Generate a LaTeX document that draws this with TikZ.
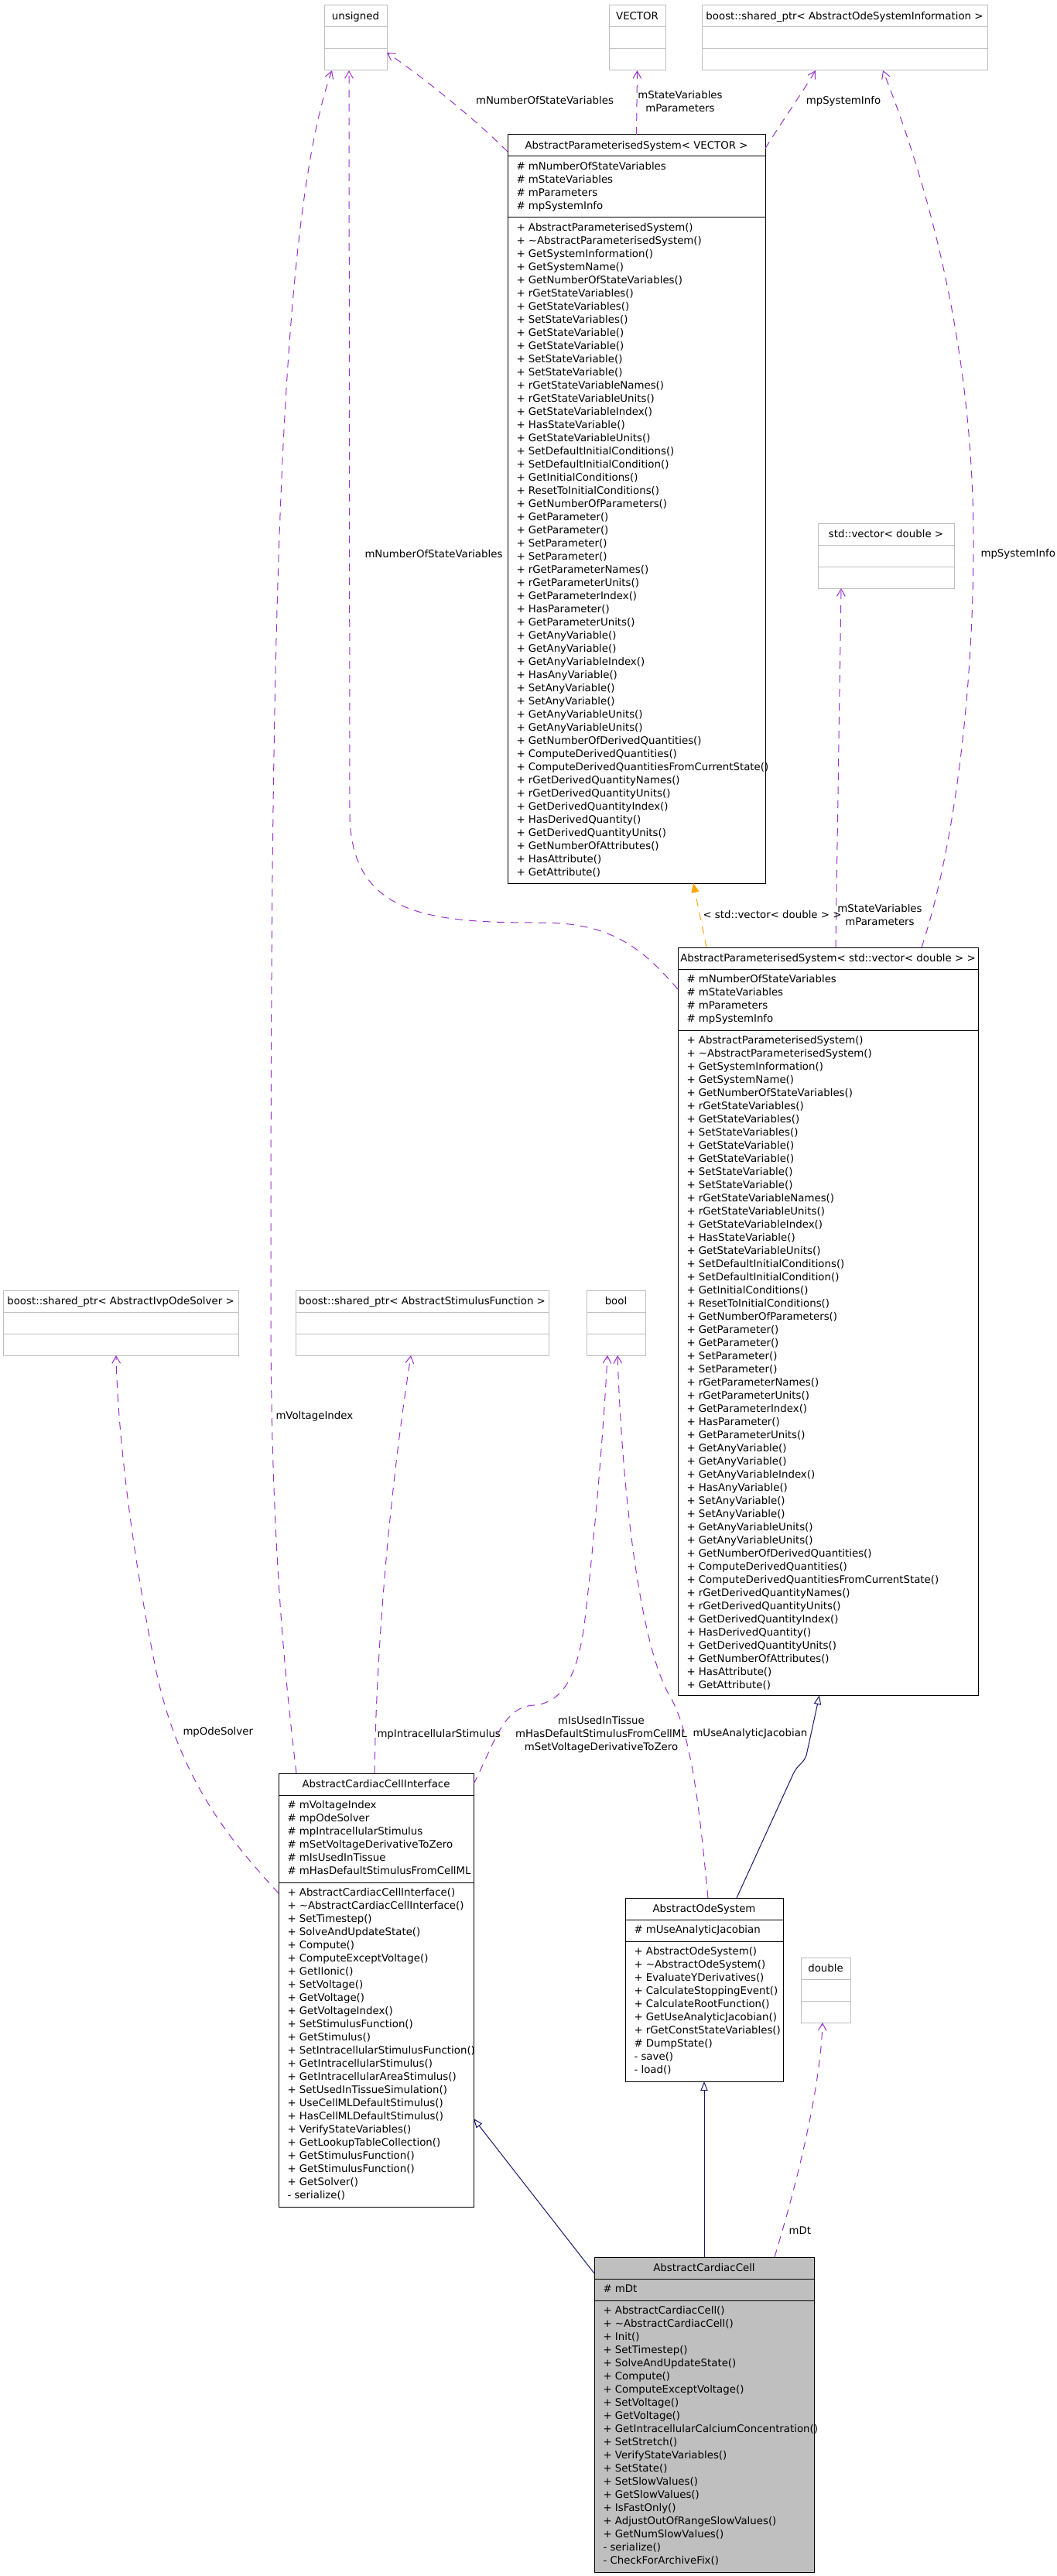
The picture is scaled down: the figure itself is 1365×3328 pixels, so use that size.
\documentclass[tikz,border=0pt]{standalone}
\usepackage{fontspec}
\setmainfont{DejaVu Sans}
\usetikzlibrary{arrows.meta,positioning,calc}
\newlength\px
\setlength\px{0.75pt}
\definecolor{usecol}{HTML}{9A32CD}
\definecolor{inhcol}{HTML}{191970}
\definecolor{tplcol}{HTML}{FFA500}
\definecolor{boxgray}{HTML}{BFBFBF}
\newcommand\apsmethods{+ AbstractParameterisedSystem(),+ \textasciitilde AbstractParameterisedSystem(),
  + GetSystemInformation(),+ GetSystemName(),+ GetNumberOfStateVariables(),+ rGetStateVariables(),
  + GetStateVariables(),+ SetStateVariables(),+ GetStateVariable(),+ GetStateVariable(),
  + SetStateVariable(),+ SetStateVariable(),+ rGetStateVariableNames(),+ rGetStateVariableUnits(),
  + GetStateVariableIndex(),+ HasStateVariable(),+ GetStateVariableUnits(),
  + SetDefaultInitialConditions(),+ SetDefaultInitialCondition(),+ GetInitialConditions(),
  + ResetToInitialConditions(),+ GetNumberOfParameters(),+ GetParameter(),+ GetParameter(),
  + SetParameter(),+ SetParameter(),+ rGetParameterNames(),+ rGetParameterUnits(),
  + GetParameterIndex(),+ HasParameter(),+ GetParameterUnits(),+ GetAnyVariable(),
  + GetAnyVariable(),+ GetAnyVariableIndex(),+ HasAnyVariable(),+ SetAnyVariable(),
  + SetAnyVariable(),+ GetAnyVariableUnits(),+ GetAnyVariableUnits(),
  + GetNumberOfDerivedQuantities(),+ ComputeDerivedQuantities(),
  + ComputeDerivedQuantitiesFromCurrentState(),+ rGetDerivedQuantityNames(),
  + rGetDerivedQuantityUnits(),+ GetDerivedQuantityIndex(),+ HasDerivedQuantity(),
  + GetDerivedQuantityUnits(),+ GetNumberOfAttributes(),+ HasAttribute(),+ GetAttribute()}
\newcommand\apsattrs{\# mNumberOfStateVariables,\# mStateVariables,\# mParameters,\# mpSystemInfo}

\begin{document}
\begin{tikzpicture}[x=1\px, y=-1\px, line width=0.75pt,
  font=\fontsize{10pt}{12.75pt}\selectfont,
  head/.style={draw, inner sep=0pt, outer sep=0pt, minimum height=28\px,
    text height=7.3pt, text depth=0pt, anchor=north west},
  crow/.style={draw, inner sep=0pt, outer sep=0pt},
  graybox/.style={draw=boxgray},
  cellfill/.style={fill=boxgray},
  member/.style={anchor=base west, inner sep=0pt},
  lbl/.style={inner sep=0pt, align=center},
  usage/.style={usecol, dash pattern=on 7.5pt off 6pt,
    -{Straight Barb[length=7pt, width=8pt]}},
  inherit/.style={inhcol, -{Triangle[open, length=9pt, width=7pt]}},
  tmpl/.style={tplcol, dash pattern=on 7.5pt off 6pt,
    -{Triangle[length=9pt, width=7.5pt]}},
]
  \useasboundingbox[fill=white] (0,0) rectangle (1365,3328);

  % Plain member types
  \node[head, graybox, minimum width=81\px] (uns) at (419,7) {unsigned};
  \node[crow, graybox, minimum width=81\px, minimum height=28\px, below=0pt of uns] (uns-a) {};
  \node[crow, graybox, minimum width=81\px, minimum height=28\px, below=0pt of uns-a] (uns-m) {};
  \node[head, graybox, minimum width=73\px] (vec) at (787,7) {VECTOR};
  \node[crow, graybox, minimum width=73\px, minimum height=28\px, below=0pt of vec] (vec-a) {};
  \node[crow, graybox, minimum width=73\px, minimum height=28\px, below=0pt of vec-a] (vec-m) {};
  \node[head, graybox, minimum width=369\px] (osi) at (907,7) {boost::shared\_ptr< AbstractOdeSystemInformation >};
  \node[crow, graybox, minimum width=369\px, minimum height=28\px, below=0pt of osi] (osi-a) {};
  \node[crow, graybox, minimum width=369\px, minimum height=28\px, below=0pt of osi-a] (osi-m) {};
  \node[head, graybox, minimum width=176\px] (stdv) at (1057,676) {std::vector< double >};
  \node[crow, graybox, minimum width=176\px, minimum height=28\px, below=0pt of stdv] (stdv-a) {};
  \node[crow, graybox, minimum width=176\px, minimum height=28\px, below=0pt of stdv-a] (stdv-m) {};
  \node[head, graybox, minimum width=304\px] (ivp) at (4,1667) {boost::shared\_ptr< AbstractIvpOdeSolver >};
  \node[crow, graybox, minimum width=304\px, minimum height=28\px, below=0pt of ivp] (ivp-a) {};
  \node[crow, graybox, minimum width=304\px, minimum height=28\px, below=0pt of ivp-a] (ivp-m) {};
  \node[head, graybox, minimum width=327\px] (stim) at (382,1667) {boost::shared\_ptr< AbstractStimulusFunction >};
  \node[crow, graybox, minimum width=327\px, minimum height=28\px, below=0pt of stim] (stim-a) {};
  \node[crow, graybox, minimum width=327\px, minimum height=28\px, below=0pt of stim-a] (stim-m) {};
  \node[head, graybox, minimum width=76\px] (boolt) at (758,1667) {bool};
  \node[crow, graybox, minimum width=76\px, minimum height=28\px, below=0pt of boolt] (boolt-a) {};
  \node[crow, graybox, minimum width=76\px, minimum height=28\px, below=0pt of boolt-a] (boolt-m) {};
  \node[head, graybox, minimum width=64\px] (dbl) at (1035,2529) {double};
  \node[crow, graybox, minimum width=64\px, minimum height=28\px, below=0pt of dbl] (dbl-a) {};
  \node[crow, graybox, minimum width=64\px, minimum height=28\px, below=0pt of dbl-a] (dbl-m) {};

  % AbstractParameterisedSystem< VECTOR >
  \node[head, minimum width=333\px] (apsv) at (656,174) {AbstractParameterisedSystem< VECTOR >};
  \node[crow, minimum width=333\px, minimum height=79\px, below=0pt of apsv] (apsv-a) {};
  \node[crow, minimum width=333\px, minimum height=860\px, below=0pt of apsv-a] (apsv-m) {};
  \foreach \t [count=\i] in \apsattrs
    \node[member] (apsv-a\i) at ($(apsv-a.north west)+(11,17*\i+0.5)$) {\t};
  \foreach \t [count=\i] in \apsmethods
    \node[member] (apsv-m\i) at ($(apsv-m.north west)+(11,17*\i+0.5)$) {\t};

  % AbstractParameterisedSystem< std::vector< double > >
  \node[head, minimum width=388\px] (apsd) at (876,1224) {AbstractParameterisedSystem< std::vector< double > >};
  \node[crow, minimum width=388\px, minimum height=79\px, below=0pt of apsd] (apsd-a) {};
  \node[crow, minimum width=388\px, minimum height=859\px, below=0pt of apsd-a] (apsd-m) {};
  \foreach \t [count=\i] in \apsattrs
    \node[member] (apsd-a\i) at ($(apsd-a.north west)+(11,17*\i+0.5)$) {\t};
  \foreach \t [count=\i] in \apsmethods
    \node[member] (apsd-m\i) at ($(apsd-m.north west)+(11,17*\i+0.5)$) {\t};

  % AbstractCardiacCellInterface
  \node[head, minimum width=252\px] (acci) at (360,2291) {AbstractCardiacCellInterface};
  \node[crow, minimum width=252\px, minimum height=113\px, below=0pt of acci] (acci-a) {};
  \node[crow, minimum width=252\px, minimum height=419\px, below=0pt of acci-a] (acci-m) {};
  \foreach \t [count=\i] in {\# mVoltageIndex,\# mpOdeSolver,\# mpIntracellularStimulus,
    \# mSetVoltageDerivativeToZero,\# mIsUsedInTissue,\# mHasDefaultStimulusFromCellML}
    \node[member] (acci-a\i) at ($(acci-a.north west)+(11,17*\i+0.5)$) {\t};
  \foreach \t [count=\i] in {+ AbstractCardiacCellInterface(),+ \textasciitilde AbstractCardiacCellInterface(),
    + SetTimestep(),+ SolveAndUpdateState(),+ Compute(),+ ComputeExceptVoltage(),+ GetIIonic(),
    + SetVoltage(),+ GetVoltage(),+ GetVoltageIndex(),+ SetStimulusFunction(),+ GetStimulus(),
    + SetIntracellularStimulusFunction(),+ GetIntracellularStimulus(),
    + GetIntracellularAreaStimulus(),+ SetUsedInTissueSimulation(),+ UseCellMLDefaultStimulus(),
    + HasCellMLDefaultStimulus(),+ VerifyStateVariables(),+ GetLookupTableCollection(),
    + GetStimulusFunction(),+ GetStimulusFunction(),+ GetSolver(),- serialize()}
    \node[member] (acci-m\i) at ($(acci-m.north west)+(11,17*\i+0.5)$) {\t};

  % AbstractOdeSystem
  \node[head, minimum width=204\px] (aos) at (808,2452) {AbstractOdeSystem};
  \node[crow, minimum width=204\px, minimum height=28\px, below=0pt of aos] (aos-a) {};
  \node[crow, minimum width=204\px, minimum height=181\px, below=0pt of aos-a] (aos-m) {};
  \node[member] (aos-a1) at ($(aos-a.north west)+(11,17.5)$) {\# mUseAnalyticJacobian};
  \foreach \t [count=\i] in {+ AbstractOdeSystem(),+ \textasciitilde AbstractOdeSystem(),
    + EvaluateYDerivatives(),+ CalculateStoppingEvent(),+ CalculateRootFunction(),
    + GetUseAnalyticJacobian(),+ rGetConstStateVariables(),\# DumpState(),- save(),- load()}
    \node[member] (aos-m\i) at ($(aos-m.north west)+(11,17*\i+0.5)$) {\t};

  % AbstractCardiacCell
  \node[head, cellfill, minimum width=284\px] (acc) at (768,2916) {AbstractCardiacCell};
  \node[crow, cellfill, minimum width=284\px, minimum height=28\px, below=0pt of acc] (acc-a) {};
  \node[crow, cellfill, minimum width=284\px, minimum height=351\px, below=0pt of acc-a] (acc-m) {};
  \node[member] (acc-a1) at ($(acc-a.north west)+(11,17.5)$) {\# mDt};
  \foreach \t [count=\i] in {+ AbstractCardiacCell(),+ \textasciitilde AbstractCardiacCell(),+ Init(),
    + SetTimestep(),+ SolveAndUpdateState(),+ Compute(),+ ComputeExceptVoltage(),+ SetVoltage(),
    + GetVoltage(),+ GetIntracellularCalciumConcentration(),+ SetStretch(),
    + VerifyStateVariables(),+ SetState(),+ SetSlowValues(),+ GetSlowValues(),+ IsFastOnly(),
    + AdjustOutOfRangeSlowValues(),+ GetNumSlowValues(),- serialize(),- CheckForArchiveFix()}
    \node[member] (acc-m\i) at ($(acc-m.north west)+(11,17*\i+0.5)$) {\t};

  % Usage relations
  \draw[usage] ([yshift=-8\px]apsv.west) .. controls (610,150) and (540,95)
    .. ($(uns-a.south east)+(0,5)$);
  \draw[usage] (apsv.north) -- (vec-m.south);
  \draw[usage] ([yshift=-4\px]apsv.east) .. controls (1005,165) and (1040,115)
    .. ([xshift=147\px]osi-m.south west);
  \draw[usage] ([xshift=315\px]apsd.north west) .. controls (1232,1100) and (1258,900)
    .. (1258,700) .. controls (1258,450) and (1200,240) .. ([xshift=234\px]osi-m.south west);
  \draw[usage] ([xshift=204\px]apsd.north west) -- ([xshift=30\px]stdv-m.south west);
  \draw[usage] ($(apsd-a.north west)+(0,26)$) .. controls (830,1225) and (790,1192)
    .. (700,1192) .. controls (560,1192) and (452,1185) .. (452,1050)
    -- ([xshift=32\px]uns-m.south west);
  \draw[usage] ([xshift=23\px]acci.north west) .. controls (370,2180) and (350,2000)
    .. (350,1700) .. controls (350,900) and (355,300) .. ([xshift=10\px]uns-m.south west);
  \draw[usage] ($(acci-m.north west)+(0,14)$) .. controls (300,2380) and (230,2300)
    .. (200,2150) .. controls (170,2000) and (152,1850) .. ([xshift=-6\px]ivp-m.south);
  \draw[usage] ([xshift=124\px]acci.north west) .. controls (486,2150) and (500,1950)
    .. ([xshift=149\px]stim-m.south west);
  \draw[usage] (acci.east) .. controls (640,2250) and (650,2205) .. (690,2203)
    .. controls (725,2200) and (745,2170) .. (755,2100)
    .. controls (768,1990) and (780,1850) .. ([xshift=27\px]boolt-m.south west);
  \draw[usage] ([xshift=107\px]aos.north west) .. controls (905,2350) and (895,2240)
    .. (865,2190) .. controls (830,2130) and (805,1950) .. ([xshift=40\px]boolt-m.south west);
  \draw[usage] ([xshift=233\px]acc.north west) .. controls (1030,2820) and (1060,2700)
    .. ([xshift=-4\px]dbl-m.south);

  % Template instance
  \draw[tmpl] ([xshift=37\px]apsd.north west) -- ([xshift=240\px]apsv-m.south west);

  % Inheritance
  \draw[inherit] ([xshift=144\px]aos.north west) -- (1025,2292)
    .. controls (1031,2279) and (1037,2280) .. (1042,2268) -- ([xshift=183\px]apsd-m.south west);
  \draw[inherit] (acc.north) -- (aos-m.south);
  \draw[inherit] ([yshift=-7\px]acc.west) -- ($(acci-m.north east)+(0,305)$);

  % Edge labels
  \node[lbl] (l-nsv1) at (704,130) {mNumberOfStateVariables};
  \node[lbl] (l-sv1) at (879,131) {mStateVariables\\mParameters};
  \node[lbl] (l-si1) at (1090,131) {mpSystemInfo};
  \node[lbl, anchor=west] (l-nsv2) at (471,716) {mNumberOfStateVariables};
  \node[lbl, anchor=west] (l-si2) at (1267,716) {mpSystemInfo};
  \node[lbl, anchor=west] (l-tpl) at (908,1182) {< std::vector< double > >};
  \node[lbl] (l-sv2) at (1137,1182) {mStateVariables\\mParameters};
  \node[lbl, anchor=west] (l-vi) at (356,1830) {mVoltageIndex};
  \node[lbl, anchor=west] (l-ode) at (236,2238) {mpOdeSolver};
  \node[lbl, anchor=west] (l-stim) at (487,2241) {mpIntracellularStimulus};
  \node[lbl] (l-bool) at (777,2241) {mIsUsedInTissue\\mHasDefaultStimulusFromCellML\\mSetVoltageDerivativeToZero};
  \node[lbl, anchor=west] (l-jac) at (895,2240) {mUseAnalyticJacobian};
  \node[lbl, anchor=west] (l-dt) at (1019,2882) {mDt};
\end{tikzpicture}
\end{document}
